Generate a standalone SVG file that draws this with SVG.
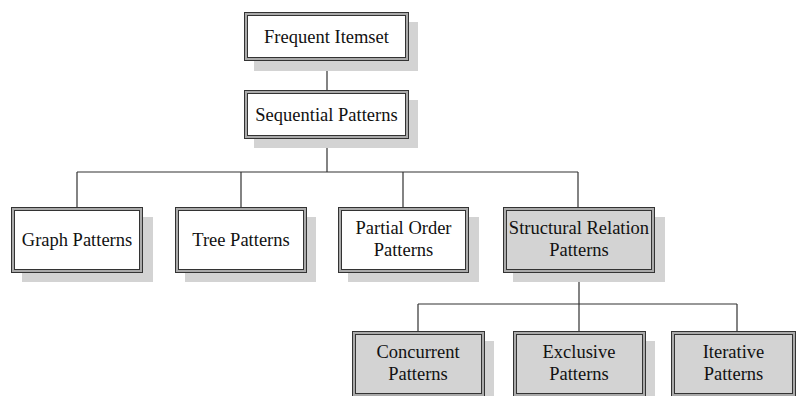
<svg xmlns="http://www.w3.org/2000/svg" width="797" height="396" viewBox="0 0 797 396">
<style>
.sh{fill:#d3d3d3}
.ob{fill:#aaa;stroke:#333;stroke-width:1}
.iw{fill:#fff;stroke:#333;stroke-width:1}
.ig{fill:#d3d3d3;stroke:#333;stroke-width:1}
.t{font-family:"Liberation Serif","Times New Roman",serif;font-size:18.5px;fill:#111;text-anchor:middle}
.c{fill:none;stroke:#333;stroke-width:1.2}
</style>
<rect width="797" height="396" fill="#fff"/>
<g id="connectors">
<path class="c" d="M327 61V90M327 138V172M77 172H578M77 172V207M241 172V207M403 172V207M578 172V207"/>
<path class="c" d="M579 272V304M418 304H737M418 304V331M579 304V331M737 304V331"/>
</g>
<g id="frequent-itemset">
<rect class="sh" x="254" y="22" width="164" height="49"/>
<rect class="ob" x="244.5" y="12.5" width="164" height="48"/>
<rect class="iw" x="247.5" y="15.5" width="158" height="42"/>
<text class="t" x="326.5" y="43">Frequent Itemset</text>
</g>
<g id="sequential-patterns">
<rect class="sh" x="254" y="100" width="164" height="48"/>
<rect class="ob" x="244.5" y="90.5" width="164" height="48"/>
<rect class="iw" x="247.5" y="93.5" width="158" height="42"/>
<text class="t" x="326.5" y="121">Sequential Patterns</text>
</g>
<g id="graph-patterns">
<rect class="sh" x="22" y="217" width="131" height="65"/>
<rect class="ob" x="11.5" y="207.5" width="131" height="65"/>
<rect class="iw" x="14.5" y="210.5" width="125" height="59"/>
<text class="t" x="77" y="246">Graph Patterns</text>
</g>
<g id="tree-patterns">
<rect class="sh" x="185" y="217" width="131" height="65"/>
<rect class="ob" x="175.5" y="207.5" width="131" height="65"/>
<rect class="iw" x="178.5" y="210.5" width="125" height="59"/>
<text class="t" x="241" y="246">Tree Patterns</text>
</g>
<g id="partial-order-patterns">
<rect class="sh" x="348" y="217" width="131" height="65"/>
<rect class="ob" x="338.5" y="207.5" width="130" height="65"/>
<rect class="iw" x="341.5" y="210.5" width="124" height="59"/>
<text class="t" x="403.5" y="234">Partial Order</text>
<text class="t" x="403.5" y="256">Patterns</text>
</g>
<g id="structural-relation-patterns">
<rect class="sh" x="513" y="217" width="152" height="65"/>
<rect class="ob" x="503.5" y="207.5" width="151" height="65"/>
<rect class="ig" x="506.5" y="210.5" width="145" height="59"/>
<text class="t" x="579" y="234">Structural Relation</text>
<text class="t" x="579" y="256">Patterns</text>
</g>
<g id="concurrent-patterns">
<rect class="sh" x="362" y="341" width="132" height="65"/>
<rect class="ob" x="352.5" y="331.5" width="132" height="65"/>
<rect class="ig" x="355.5" y="334.5" width="126" height="59"/>
<text class="t" x="418" y="358">Concurrent</text>
<text class="t" x="418" y="380">Patterns</text>
</g>
<g id="exclusive-patterns">
<rect class="sh" x="523" y="341" width="132" height="65"/>
<rect class="ob" x="513.5" y="331.5" width="132" height="65"/>
<rect class="ig" x="516.5" y="334.5" width="126" height="59"/>
<text class="t" x="579" y="358">Exclusive</text>
<text class="t" x="579" y="380">Patterns</text>
</g>
<g id="iterative-patterns">
<rect class="ob" x="671.5" y="331.5" width="124" height="65"/>
<rect class="ig" x="674.5" y="334.5" width="118" height="59"/>
<text class="t" x="733.5" y="358">Iterative</text>
<text class="t" x="733.5" y="380">Patterns</text>
</g>
</svg>
